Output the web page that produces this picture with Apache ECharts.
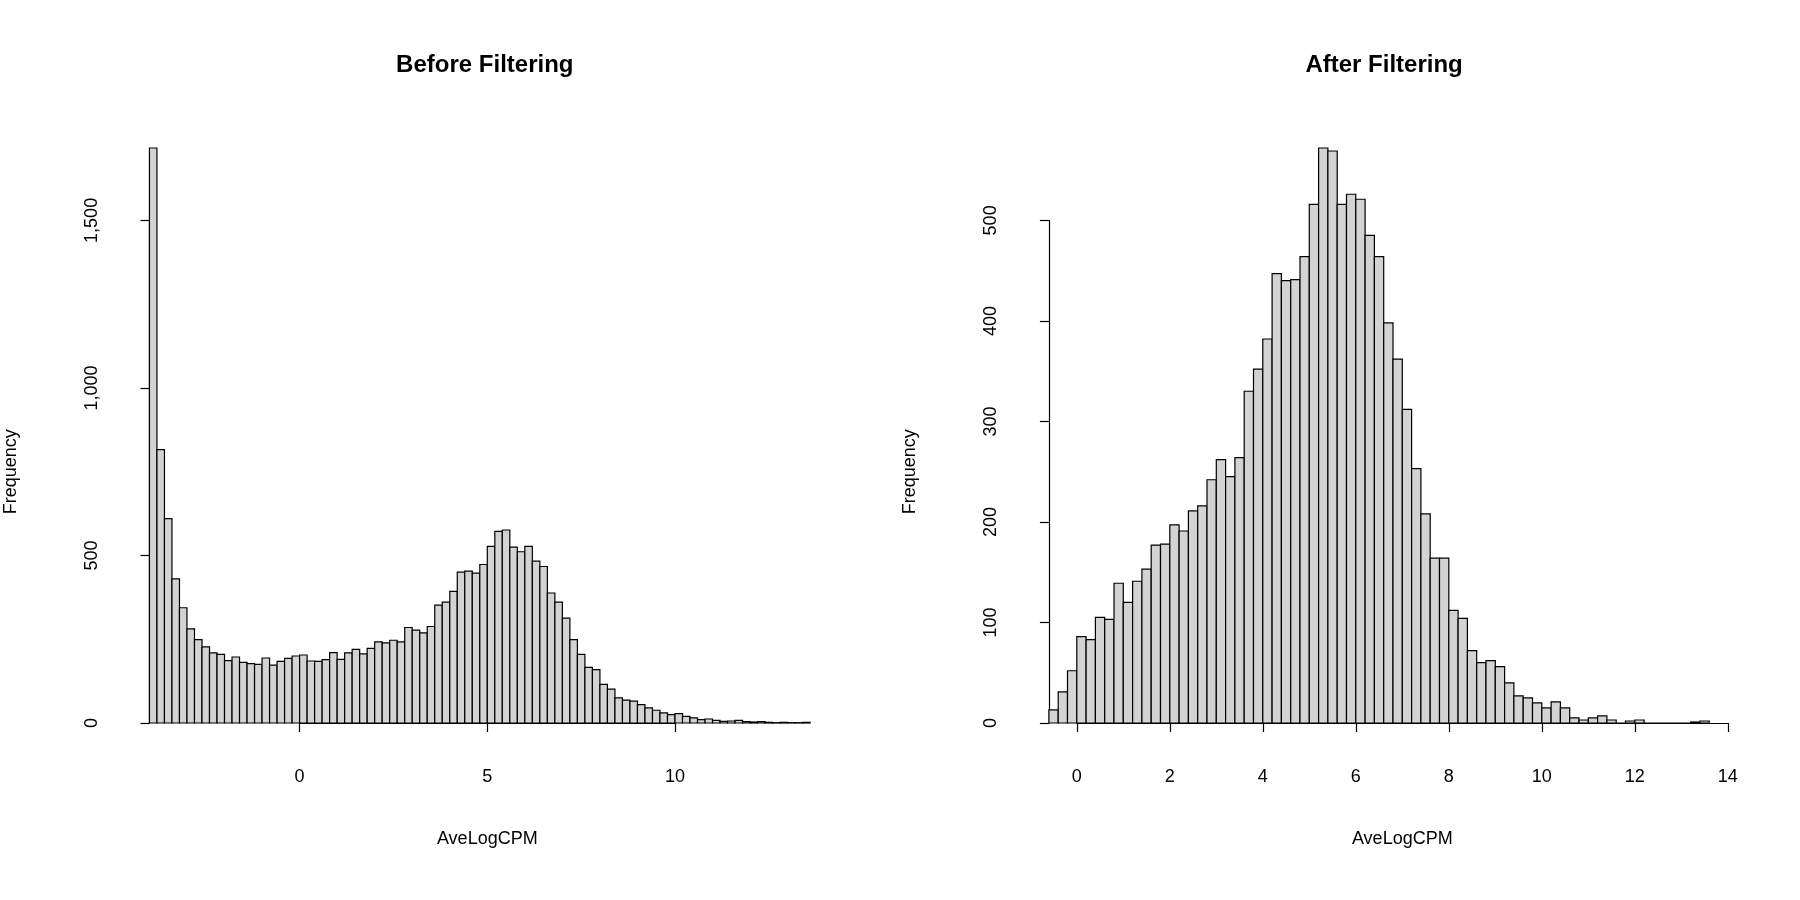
<!DOCTYPE html>
<html>
<head>
<meta charset="utf-8">
<script src="https://cdn.jsdelivr.net/npm/echarts@6/dist/echarts.min.js"></script>
<style>html,body{margin:0;padding:0;background:#fff}#main{width:1800px;height:900px}</style>
</head>
<body>
<div id="main"></div>
<script>
// bin width and starting edge of each histogram
var binWidth = 0.2;
var beforeStart = -4.0;
var afterStart = -0.6;

// Before Filtering counts
var beforeCounts = [1716,816,610,430,344,281,249,227,209,205,
    186,197,181,177,175,194,173,184,193,200,
    203,185,184,189,210,190,209,220,206,223,
    242,239,247,242,285,277,269,288,352,361,
    393,450,453,447,473,527,572,576,525,511,
    527,483,467,388,361,313,249,205,166,159,
    115,101,75,68,65,55,45,38,30,25,
    28,20,15,10,12,8,5,6,8,4,
    3,4,2,1,2,1,1,2];

// After Filtering counts
var afterCounts = [13,31,52,86,83,105,103,139,120,141,
    153,177,178,197,191,211,216,242,262,245,
    264,330,352,382,447,440,441,464,516,572,
    569,516,526,521,485,464,398,362,312,253,
    208,164,164,112,104,72,60,62,56,40,
    27,25,20,15,21,15,5,3,5,7,
    3,0,2,3,0,0,0,0,0,1,2];

var beforeXTicks = [0, 10, 5];   // min, max, interval
var beforeYTicks = [0, 1500, 500];
var afterXTicks = [0, 14, 2];
var afterYTicks = [0, 500, 100];

var chart = echarts.init(document.getElementById('main'));
var FONT = 'Liberation Sans, Arial, sans-serif';

function toBins(start, counts) {
    return counts.map(function (c, i) {
        var a = +(start + i * binWidth).toFixed(2);
        return [a, +(a + binWidth).toFixed(2), c];
    });
}

// panel: px mapping of x values, zero line, top
function panel(p, idx) {
    var nb = p.counts.length;
    var x0 = p.start, x1 = +(p.start + nb * binWidth).toFixed(2);
    var ymax = Math.max.apply(null, p.counts) * 1.04;
    var pxAt = function (v) { return p.px0 + p.pxPerUnit * v; };
    var zero = 723, top = 125;
    var pxPerCount = (zero - top) / ymax;
    var left = pxAt(x0), right = pxAt(x1);
    var span = (x1 - x0) * 0.04;
    var axisX = pxAt(x0 - span);
    var g = [
        { left: left, width: right - left, top: top, height: zero - top },
        { left: pxAt(p.xt[0]), width: pxAt(p.xt[1]) - pxAt(p.xt[0]), top: top, height: zero - top },
        { left: left, width: 10, top: zero - p.yt[1] * pxPerCount, height: p.yt[1] * pxPerCount }
    ];
    var base = idx * 3;
    var hid = { show: false };
    var axisCommon = {
        axisLine: { show: true, lineStyle: { color: '#000', width: 1.2 } },
        axisTick: { show: true, length: 9, lineStyle: { color: '#000', width: 1.2 } },
        splitLine: hid,
        axisLabel: { color: '#000', fontSize: 18, fontFamily: FONT }
    };
    var xs = [
        { type: 'value', gridIndex: base, min: x0, max: x1, show: false },
        Object.assign({ type: 'value', gridIndex: base + 1, min: p.xt[0], max: p.xt[1], interval: p.xt[2],
            offset: 23, name: 'AveLogCPM', nameLocation: 'middle', nameGap: 84,
            nameTextStyle: { color: '#000', fontSize: 18, fontFamily: FONT } }, axisCommon,
            { axisLabel: Object.assign({}, axisCommon.axisLabel, { margin: 22 }) }),
        { type: 'value', gridIndex: base + 2, show: false }
    ];
    var ys = [
        { type: 'value', gridIndex: base, min: 0, max: ymax, show: false },
        { type: 'value', gridIndex: base + 1, show: false },
        Object.assign({ type: 'value', gridIndex: base + 2, min: p.yt[0], max: p.yt[1], interval: p.yt[2],
            offset: left - axisX, name: 'Frequency', nameLocation: 'middle',
            nameGap: 103, nameRotate: 90,
            nameTextStyle: { color: '#000', fontSize: 18, fontFamily: FONT } }, axisCommon,
            { axisLabel: Object.assign({}, axisCommon.axisLabel, { rotate: 90, margin: 22, align: 'center', verticalAlign: 'bottom' }) })
    ];
    // keep y axis name centered on the whole plot region rather than tick range
    var series = {
        type: 'custom', xAxisIndex: base, yAxisIndex: base,
        data: toBins(p.start, p.counts),
        renderItem: function (params, api) {
            var a = api.coord([api.value(0), api.value(2)]);
            var b = api.coord([api.value(1), 0]);
            return {
                type: 'rect',
                shape: { x: a[0], y: a[1], width: b[0] - a[0], height: b[1] - a[1] },
                style: { fill: '#d3d3d3', stroke: '#000', lineWidth: 1.2 }
            };
        }
    };
    var title = {
        text: p.title, left: (axisX + pxAt(x1 + span)) / 2, top: 48, textAlign: 'center',
        textStyle: { color: '#000', fontSize: 24, fontWeight: 'bold', fontFamily: FONT }
    };
    return { grid: g, x: xs, y: ys, series: series, title: title };
}

var p1 = panel({ start: beforeStart, counts: beforeCounts, px0: 299.6, pxPerUnit: 37.54,
    xt: beforeXTicks, yt: beforeYTicks, title: 'Before Filtering' }, 0);
var p2 = panel({ start: afterStart, counts: afterCounts, px0: 1076.8, pxPerUnit: 46.5,
    xt: afterXTicks, yt: afterYTicks, title: 'After Filtering' }, 1);

chart.setOption({
    animation: false,
    title: [p1.title, p2.title],
    grid: p1.grid.concat(p2.grid),
    xAxis: p1.x.concat(p2.x),
    yAxis: p1.y.concat(p2.y),
    series: [p1.series, p2.series]
});
</script>
</body>
</html>
